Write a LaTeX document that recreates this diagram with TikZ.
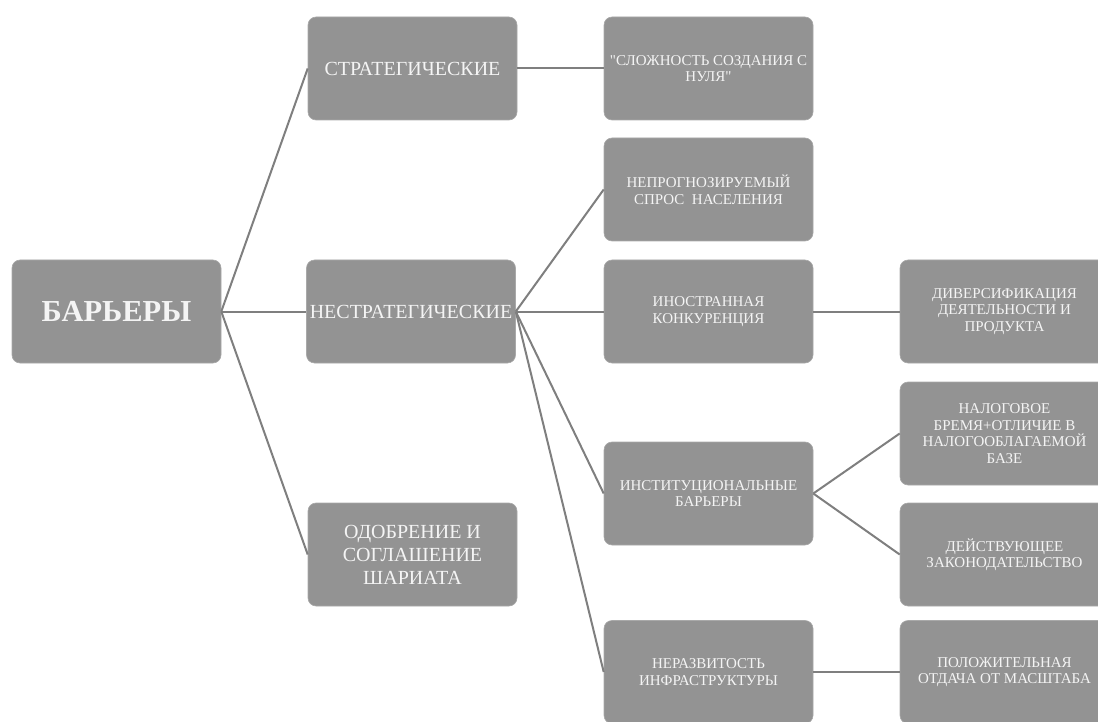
\documentclass[tikz,border=0pt]{standalone}
\usepackage{fontspec}
\setmainfont{Liberation Serif}[Ligatures=TeXOff]
\definecolor{boxgray}{HTML}{939393}
\definecolor{linegray}{HTML}{7F7F7F}
\definecolor{txt}{HTML}{F4F4F4}
\begin{document}
\begin{tikzpicture}[x=1pt,y=-1pt,
  box/.style={fill=boxgray, draw=boxgray!80!white, line width=0.6pt, rounded corners=8pt,
    minimum width=209pt, minimum height=103pt, inner sep=2pt, align=center,
    text=txt, font=\fontsize{15}{16.5}\selectfont},
  lvlone/.style={box, font=\fontsize{20}{23}\selectfont},
  root/.style={box, font=\fontsize{30.5}{36}\selectfont\bfseries},
  conn/.style={draw=linegray, line width=2pt}]
\useasboundingbox (0,0) rectangle (1098,722);
\clip (0,0) rectangle (1098,722);
\node[root] (bar) at (116.5,311.5) {БАРЬЕРЫ};
\node[lvlone] (str) at (412.5,68.5) {СТРАТЕГИЧЕСКИЕ};
\node[lvlone] (nstr) at (411,311.5) {НЕСТРАТЕГИЧЕСКИЕ};
\node[lvlone] (odo) at (412.5,554.5) {ОДОБРЕНИЕ И\\СОГЛАШЕНИЕ\\ШАРИАТА};
\node[box] (slo) at (708.5,68.5) {"СЛОЖНОСТЬ СОЗДАНИЯ С\\НУЛЯ"};
\node[box] (nep) at (708.5,189.5) {НЕПРОГНОЗИРУЕМЫЙ\\СПРОС\ \ НАСЕЛЕНИЯ};
\node[box] (ino) at (708.5,311.5) {ИНОСТРАННАЯ\\КОНКУРЕНЦИЯ};
\node[box] (ins) at (708.5,493.5) {ИНСТИТУЦИОНАЛЬНЫЕ\\БАРЬЕРЫ};
\node[box] (ner) at (708.5,672) {НЕРАЗВИТОСТЬ\\ИНФРАСТРУКТУРЫ};
\node[box] (div) at (1004.5,311.5) {ДИВЕРСИФИКАЦИЯ\\ДЕЯТЕЛЬНОСТИ И\\ПРОДУКТА};
\node[box] (nal) at (1004.5,433.5) {НАЛОГОВОЕ\\БРЕМЯ+ОТЛИЧИЕ В\\НАЛОГООБЛАГАЕМОЙ\\БАЗЕ};
\node[box] (dei) at (1004.5,554.5) {ДЕЙСТВУЮЩЕЕ\\ЗАКОНОДАТЕЛЬСТВО};
\node[box] (pol) at (1004.5,672) {ПОЛОЖИТЕЛЬНАЯ\\ОТДАЧА ОТ МАСШТАБА};
\draw[conn] (bar.east) -- (str.west);
\draw[conn] (bar.east) -- (nstr.west);
\draw[conn] (bar.east) -- (odo.west);
\draw[conn] (str.east) -- (slo.west);
\draw[conn] (nstr.east) -- (nep.west);
\draw[conn] (nstr.east) -- (ino.west);
\draw[conn] (nstr.east) -- (ins.west);
\draw[conn] (nstr.east) -- (ner.west);
\draw[conn] (ino.east) -- (div.west);
\draw[conn] (ins.east) -- (nal.west);
\draw[conn] (ins.east) -- (dei.west);
\draw[conn] (ner.east) -- (pol.west);
\end{tikzpicture}
\end{document}
